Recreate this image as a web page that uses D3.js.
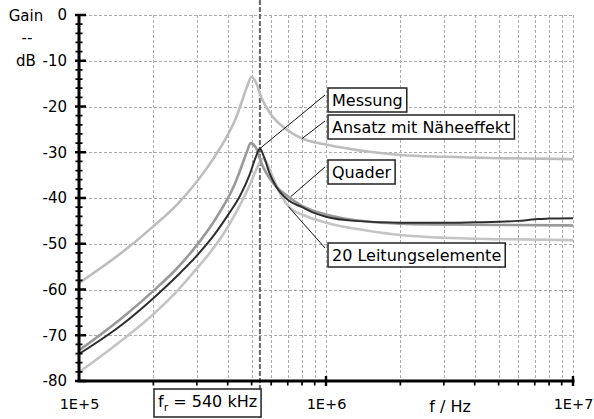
<!DOCTYPE html>
<html>
<head>
<meta charset="utf-8">
<script src="https://cdn.jsdelivr.net/npm/d3@7/dist/d3.min.js"></script>
<style>
  html, body { margin: 0; padding: 0; background: #fff; }
  svg { display: block; font-family: "DejaVu Sans", sans-serif; }
</style>
</head>
<body>
<svg id="chart" width="594" height="419"></svg>
<script>
// Frequency response of the test setup: gain in dB over frequency in Hz
const xTickValues = [1e5, 1e6, 1e7];
const xTickLabels = ["1E+5", "1E+6", "1E+7"];
const yTickValues = [-80, -70, -60, -50, -40, -30, -20, -10, 0];
const resonanceHz = 540e3;
const resonanceLabel = ["f", "r", " = 540 kHz"];

// Ansatz mit Näheeffekt
const naeheF  = [1e5, 1.5e5, 2e5, 2.5e5, 3e5, 3.5e5, 4e5, 4.3e5, 4.55e5, 4.8e5, 5.0e5, 5.2e5, 5.5e5, 6.0e5, 7e5, 8e5, 1e6, 1.5e6, 2e6, 3e6, 5e6, 1e7];
const naeheDb = [-58.6, -51.8, -46.2, -41.4, -36.4, -31.4, -26.2, -22.8, -19.1, -15.5, -13.5, -14.7, -18.3, -21.8, -25.2, -27.0, -28.3, -29.9, -30.6, -31.0, -31.3, -31.5];

// Quader
const quaderF  = [1e5, 1.5e5, 2e5, 2.5e5, 3e5, 3.5e5, 4e5, 4.3e5, 4.55e5, 4.8e5, 4.95e5, 5.2e5, 5.5e5, 6.0e5, 7e5, 8e5, 1e6, 1.5e6, 2e6, 3e6, 5e6, 1e7];
const quaderDb = [-73.3, -66.1, -60.3, -55.3, -50.3, -45.3, -40.1, -36.6, -33.1, -29.7, -28.0, -29.0, -32.6, -36.2, -39.6, -41.7, -43.6, -45.2, -45.6, -45.8, -45.9, -46.0];

// Messung
const messungF  = [1e5, 1.5e5, 2e5, 2.5e5, 3e5, 3.5e5, 4e5, 4.5e5, 4.9e5, 5.2e5, 5.4e5, 5.6e5, 5.9e5, 6.3e5, 7e5, 8e5, 9e5, 1e6, 1.3e6, 2e6, 3e6, 4e6, 5e6, 6e6, 6.6e6, 7.2e6, 8e6, 1e7];
const messungDb = [-74.1, -67.6, -61.9, -57.0, -52.6, -48.3, -43.8, -39.4, -35.0, -31.0, -29.2, -30.9, -34.5, -37.6, -40.4, -42.0, -43.3, -44.1, -45.0, -45.4, -45.4, -45.3, -45.2, -45.0, -44.8, -44.6, -44.5, -44.4];

// 20 Leitungselemente
const leitungF  = [1e5, 1.5e5, 2e5, 2.5e5, 3e5, 3.5e5, 4e5, 4.5e5, 4.9e5, 5.2e5, 5.4e5, 5.55e5, 5.75e5, 6.1e5, 6.6e5, 7.2e5, 8e5, 1e6, 1.5e6, 2e6, 3e6, 5e6, 1e7];
const leitungDb = [-78.1, -71.0, -65.4, -60.3, -55.4, -51.0, -46.4, -41.4, -37.3, -34.0, -32.2, -31.4, -32.3, -35.5, -39.6, -42.3, -43.6, -45.4, -47.2, -48.1, -48.7, -49.0, -49.2];

const series = [
  { name: "Ansatz mit Näheeffekt", f: naeheF,   db: naeheDb,   color: "#bdbdbd", width: 2.6 },
  { name: "20 Leitungselemente",   f: leitungF, db: leitungDb, color: "#c4c4c4", width: 2.6 },
  { name: "Quader",                f: quaderF,  db: quaderDb,  color: "#999999", width: 2.6 },
  { name: "Messung",               f: messungF, db: messungDb, color: "#2e2e2e", width: 2.0 }
];

// Callouts: anchor on a curve (frequency, dB), box top edge in px
const callouts = [
  { text: "Messung",               anchorF: 5.4e5,  anchorDb: -29.2, boxTop: 88,  start: [325, 95] },
  { text: "Ansatz mit Näheeffekt", anchorF: 8.0e5,  anchorDb: -27.0, boxTop: 115, start: [325, 121] },
  { text: "Quader",                anchorF: 7.2e5,  anchorDb: -39.7, boxTop: 160, start: [325, 167] },
  { text: "20 Leitungselemente",   anchorF: 7.05e5, anchorDb: -41.9, boxTop: 243, start: [325, 248] }
];

const svg = d3.select("#chart");
const plotLeft = 79, plotRight = 573, plotTop = 15, plotBottom = 381;

const x = d3.scaleLog().domain([1e5, 1e7]).range([plotLeft, plotRight]);
const y = d3.scaleLinear().domain([-80, 0]).range([plotBottom, plotTop]);

// grid
const minorF = [];
[1e5, 1e6].forEach(d => { for (let m = 2; m <= 10; m++) minorF.push(d * m); });
const grid = svg.append("g");
grid.selectAll("line.v").data(minorF).join("line").attr("class", "v")
  .attr("x1", d => Math.round(x(d)) + 0.5).attr("x2", d => Math.round(x(d)) + 0.5)
  .attr("y1", plotTop).attr("y2", plotBottom);
grid.selectAll("line.h").data(yTickValues.filter(v => v > -80)).join("line").attr("class", "h")
  .attr("x1", plotLeft).attr("x2", plotRight)
  .attr("y1", d => Math.round(y(d)) + 0.5).attr("y2", d => Math.round(y(d)) + 0.5);
grid.selectAll("line").attr("stroke", "#acacac").attr("stroke-width", 1)
  .attr("stroke-dasharray", "3,2");

// resonance marker
svg.append("line")
  .attr("x1", x(resonanceHz)).attr("x2", x(resonanceHz))
  .attr("y1", 0).attr("y2", 419)
  .attr("stroke", "#666").attr("stroke-width", 2).attr("stroke-dasharray", "5,2");

// curves
const line = d3.line().x(d => x(d[0])).y(d => y(d[1])).curve(d3.curveMonotoneX);
series.forEach(s => {
  svg.append("path")
    .datum(s.f.map((f, i) => [f, s.db[i]]))
    .attr("fill", "none").attr("stroke", s.color).attr("stroke-width", s.width)
    .attr("stroke-linejoin", "round").attr("d", line);
});

// axis labels
const yAxis = svg.append("g").attr("transform", `translate(${plotLeft},0)`)
  .call(d3.axisLeft(y).tickValues(yTickValues).tickSize(4).tickPadding(8)
    .tickFormat(d => String(d)).tickSizeOuter(0));
yAxis.select(".domain").remove();
yAxis.selectAll(".tick line").remove();
yAxis.selectAll(".tick text").attr("font-size", 15).attr("fill", "#000")
  .attr("font-family", "DejaVu Sans, sans-serif");

const xAxis = svg.append("g").attr("transform", `translate(0,${plotBottom})`)
  .call(d3.axisBottom(x).tickValues(xTickValues).tickSize(5).tickPadding(13)
    .tickFormat((d, i) => xTickLabels[i]).tickSizeOuter(0));
xAxis.select(".domain").remove();
xAxis.selectAll(".tick line").remove();
xAxis.selectAll(".tick text").attr("font-size", 14.5).attr("fill", "#000")
  .attr("font-family", "DejaVu Sans, sans-serif");

// axis titles
const title = svg.append("g").attr("font-size", 15).attr("fill", "#000").attr("text-anchor", "middle");
title.append("text").attr("x", 26).attr("y", 21).text("Gain");
title.append("text").attr("x", 27).attr("y", 43).text("--");
title.append("text").attr("x", 26).attr("y", 66).text("dB");
svg.append("text").attr("x", 450).attr("y", 412).attr("font-size", 16).attr("fill", "#000")
  .attr("text-anchor", "middle").text("f / Hz");

// resonance frequency label
const frG = svg.append("g");
const frRect = frG.append("rect").attr("fill", "#fff").attr("stroke", "#222").attr("stroke-width", 1.5);
const frText = frG.append("text").attr("x", 158).attr("y", 407).attr("font-size", 16).attr("fill", "#000");
frText.append("tspan").text(resonanceLabel[0]);
frText.append("tspan").attr("font-size", 11).attr("dy", 4).text(resonanceLabel[1]);
frText.append("tspan").attr("dy", -4).text(resonanceLabel[2]);
const frBox = frText.node().getBBox();
frRect.attr("x", 154).attr("y", 389).attr("width", frBox.x + frBox.width + 4 - 154).attr("height", 28);

// callouts
callouts.forEach(c => {
  svg.append("line")
    .attr("x1", c.start[0]).attr("y1", c.start[1])
    .attr("x2", x(c.anchorF)).attr("y2", y(c.anchorDb))
    .attr("stroke", "#111").attr("stroke-width", 1);
  const g = svg.append("g");
  const r = g.append("rect").attr("fill", "#fff").attr("stroke", "#222").attr("stroke-width", 1.5);
  const t = g.append("text").attr("x", 332).attr("y", c.boxTop + 18)
    .attr("font-size", 16).attr("fill", "#000").text(c.text);
  const w = t.node().getComputedTextLength();
  r.attr("x", 328).attr("y", c.boxTop).attr("width", w + 8).attr("height", 24);
});

// axis lines and ticks, drawn last so nothing covers them
const axisPaths = [];
axisPaths.push(`M${plotLeft},${plotTop - 1}V${plotBottom + 1.5}`);
axisPaths.push(`M${plotLeft - 1.5},${plotBottom}H${plotRight + 1.5}`);
const axisG = svg.append("g");
axisG.append("path").attr("d", axisPaths.join(""))
  .attr("fill", "none").attr("stroke", "black").attr("stroke-width", 3);
const yMinor = d3.range(-80, 0.1, 2).filter(v => v % 10 !== 0);
axisG.append("path")
  .attr("d", yMinor.map(v => `M${plotLeft - 3.5},${y(v)}H${plotLeft + 3.5}`).join(""))
  .attr("fill", "none").attr("stroke", "black").attr("stroke-width", 1.7);
axisG.append("path")
  .attr("d", yTickValues.map(v => `M${plotLeft - 4},${y(v)}H${plotLeft + 7}`).join(""))
  .attr("fill", "none").attr("stroke", "black").attr("stroke-width", 2.4);
const xMinor = minorF.filter(v => v !== 1e6 && v !== 1e7);
axisG.append("path")
  .attr("d", xMinor.map(v => `M${x(v)},${plotBottom}V${plotBottom + 4.5}`).join(""))
  .attr("fill", "none").attr("stroke", "black").attr("stroke-width", 1.7);
axisG.append("path")
  .attr("d", [1e6, 1e7].map(v => `M${x(v)},${plotBottom - 5}V${plotBottom + 5}`).join(""))
  .attr("fill", "none").attr("stroke", "black").attr("stroke-width", 2.4);
</script>
</body>
</html>
